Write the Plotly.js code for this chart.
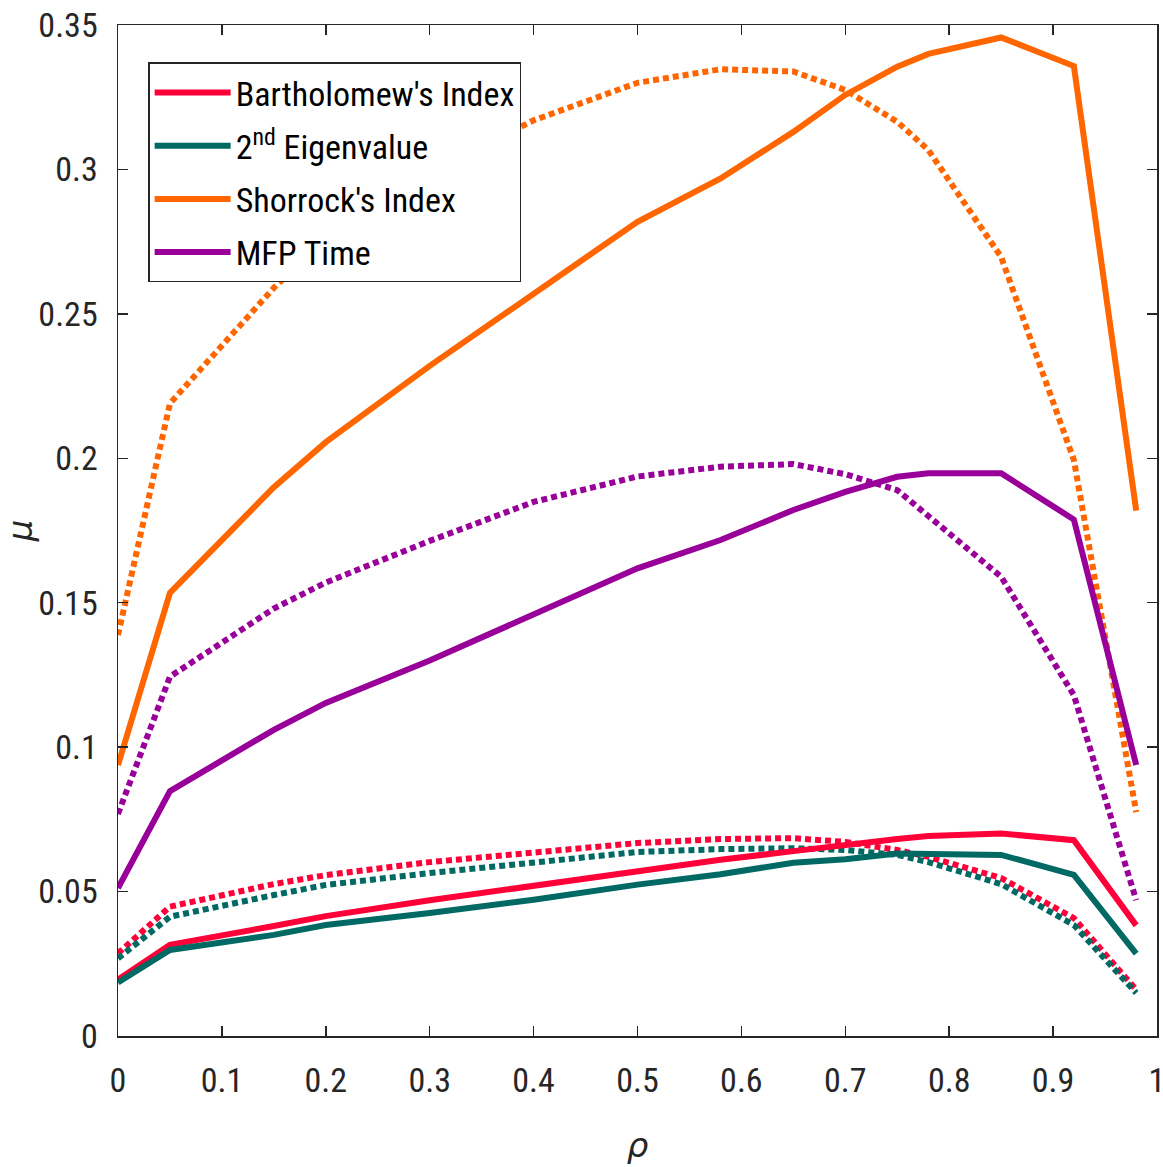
<!DOCTYPE html>
<html>
<head>
<meta charset="utf-8">
<script src="https://cdn.plot.ly/plotly-3.0.1.min.js"></script>
<style>
html,body{margin:0;padding:0;background:#fff;}
#chart{width:1163px;height:1167px;}
</style>
</head>
<body>
<div id="chart"></div>
<script>
// rho values
const rho = [0, 0.05, 0.15, 0.2, 0.3, 0.4, 0.5, 0.58, 0.65, 0.7, 0.75, 0.78, 0.85, 0.92, 0.98];

// solid series
const bartSolid  = [0.0195, 0.0316, 0.0381, 0.0415, 0.047, 0.052, 0.0571, 0.061, 0.064, 0.0663, 0.0682, 0.0692, 0.0701, 0.0678, 0.0383];
const eigSolid   = [0.0185, 0.0298, 0.035, 0.0384, 0.0426, 0.0472, 0.0524, 0.056, 0.06, 0.0612, 0.0632, 0.063, 0.0627, 0.0558, 0.0285];
const shorSolid  = [0.0938, 0.1534, 0.190, 0.2056, 0.232, 0.257, 0.2819, 0.2969, 0.313, 0.3258, 0.3356, 0.340, 0.3457, 0.3358, 0.1819];
const mfpSolid   = [0.0512, 0.0848, 0.106, 0.1153, 0.130, 0.1457, 0.1619, 0.1717, 0.1821, 0.1884, 0.1936, 0.1948, 0.1948, 0.1788, 0.0938];

// dotted series
const bartDot = [0.0286, 0.0448, 0.0526, 0.0557, 0.0602, 0.0637, 0.0668, 0.0682, 0.0685, 0.0672, 0.0644, 0.062, 0.0547, 0.0408, 0.016];
const eigDot  = [0.0269, 0.0413, 0.0488, 0.0523, 0.0564, 0.0602, 0.0637, 0.0647, 0.065, 0.0644, 0.0627, 0.0602, 0.0526, 0.0384, 0.0149];
const shorDot = [0.1388, 0.219, 0.259, 0.276, 0.299, 0.317, 0.330, 0.3347, 0.3339, 0.3275, 0.3165, 0.3067, 0.2697, 0.1994, 0.0775];
const mfpDot  = [0.0769, 0.1244, 0.148, 0.157, 0.1714, 0.1849, 0.1937, 0.1971, 0.198, 0.1945, 0.189, 0.180, 0.159, 0.118, 0.047];

const names = ["Bartholomew's Index", "2<sup>nd</sup> Eigenvalue", "Shorrock's Index", "MFP Time"];
const colors = ["#ff0038", "#006963", "#ff6600", "#990099"];

const xTickVals = [0, 0.1, 0.2, 0.3, 0.4, 0.5, 0.6, 0.7, 0.8, 0.9, 1];
const xTickText = ["0", "0.1", "0.2", "0.3", "0.4", "0.5", "0.6", "0.7", "0.8", "0.9", "1"];
const yTickVals = [0, 0.05, 0.1, 0.15, 0.2, 0.25, 0.3, 0.35];
const yTickText = ["0", "0.05", "0.1", "0.15", "0.2", "0.25", "0.3", "0.35"];

const solids = [bartSolid, eigSolid, shorSolid, mfpSolid];
const dots = [bartDot, eigDot, shorDot, mfpDot];

const traces = [];
dots.forEach((d, i) => traces.push({
  x: rho, y: d, type: 'scatter', mode: 'lines', showlegend: false, legendgroup: 'g' + i,
  line: {color: colors[i], width: 6, dash: '6px,4px'}, hoverinfo: 'skip'
}));
solids.forEach((s, i) => traces.push({
  x: rho, y: s, type: 'scatter', mode: 'lines', name: names[i], legendgroup: 'g' + i,
  line: {color: colors[i], width: 6}
}));

const FONT = "Roboto Condensed, Liberation Sans, sans-serif";
const axisCommon = {
  showline: true, mirror: 'ticks', linecolor: '#262626', linewidth: 1.5,
  ticks: 'inside', ticklen: 10, tickwidth: 1.5, tickcolor: '#262626',
  showgrid: false, zeroline: false, ticklabeloverflow: 'allow',
  tickfont: {family: FONT, size: 34, color: '#262626'}
};

const layout = {
  width: 1163, height: 1167,
  margin: {l: 118, r: 6, t: 25, b: 131},
  paper_bgcolor: '#fff', plot_bgcolor: '#fff',
  xaxis: Object.assign({}, axisCommon, {
    range: [0, 1.00001], tickmode: 'array', tickvals: xTickVals, ticktext: xTickText,
    ticklabelstandoff: 14,
    title: {text: '<i>ρ</i>', font: {family: 'DejaVu Sans, sans-serif', size: 34, color: '#262626'}, standoff: 34}
  }),
  yaxis: Object.assign({}, axisCommon, {
    range: [0, 0.35001], tickmode: 'array', tickvals: yTickVals, ticktext: yTickText,
    ticklabelstandoff: 12,
    title: {text: '<i>μ</i>', font: {family: 'DejaVu Sans, sans-serif', size: 34, color: '#262626'}, standoff: 0}
  }),
  legend: {
    x: 0.029, y: 0.963, xanchor: 'left', yanchor: 'top',
    bgcolor: '#fff', bordercolor: '#262626', borderwidth: 1.5,
    font: {family: FONT, size: 34, color: '#000'},
    itemwidth: 76, tracegroupgap: 6, traceorder: 'grouped'
  },
  showlegend: true
};

Plotly.newPlot('chart', traces, layout, {displayModeBar: false, staticPlot: true});
</script>
</body>
</html>
